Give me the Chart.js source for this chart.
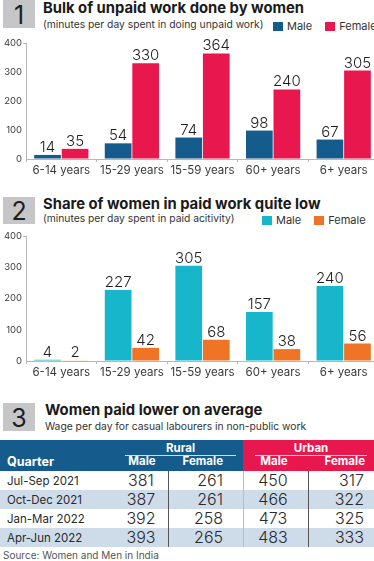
<!DOCTYPE html>
<html>
<head>
<meta charset="utf-8">
<script src="https://cdn.jsdelivr.net/npm/chart.js@4.4.1/dist/chart.umd.min.js"></script>
<style>
  html, body { margin: 0; padding: 0; background: #fff; }
  body { width: 374px; height: 561px; position: relative; overflow: hidden; font-family: 'Inter', sans-serif; color: #222; }
  .abs { position: absolute; white-space: nowrap; }
  .num { background: #c6c6c8; width: 32px; font-size: 25px; color: #1e1e1e; text-align: center; }
  .title { font-weight: 700; font-size: 14.8px; color: #1a1a1a; }
  .sub { font-size: 10.3px; color: #333; }
  .leg { font-size: 11px; color: #333; display: flex; align-items: center; }
  .leg i { display: inline-block; width: 10px; height: 9px; margin-right: 4px; }
  .leg span { margin-right: 13px; display: flex; align-items: center; }
  canvas { position: absolute; left: 0; }
  .th { color: #fff; font-weight: 700; font-size: 11.5px; }
  .q { font-size: 11.5px; color: #2a2a2a; }
  .v { font-size: 16px; color: #2a2a2a; font-weight: 300; }
</style>
</head>
<body>
<!-- Section 1 -->
<div class="abs num" style="left:3px;top:0;height:28px;line-height:30px;">1</div>
<div class="abs title" style="left:43px;top:-1px;">Bulk of unpaid work done by women</div>
<div class="abs sub" style="left:43px;top:18px;">(minutes per day spent in doing unpaid work)</div>
<div class="abs leg" id="leg1" style="left:273px;top:19px;"></div>
<canvas id="unpaidChart" width="379" height="153" style="top:30px;"></canvas>

<!-- Section 2 -->
<div class="abs num" style="left:3px;top:197px;height:27px;line-height:29px;">2</div>
<div class="abs title" style="left:43px;top:195px;">Share of women in paid work quite low</div>
<div class="abs sub" style="left:43px;top:212px;">(minutes per day spent in paid acitivity)</div>
<div class="abs leg" id="leg2" style="left:262px;top:213px;"></div>
<canvas id="paidChart" width="379" height="162" style="top:223px;"></canvas>

<!-- Section 3 -->
<div class="abs num" style="left:3px;top:403px;height:28px;line-height:30px;">3</div>
<div class="abs title" style="left:45px;top:401px;">Women paid lower on average</div>
<div class="abs sub" style="left:45px;top:420px;">Wage per day for casual labourers in non-public work</div>
<div id="wageTable"></div>
<div class="abs" style="left:3px;top:549px;font-size:10px;color:#555;">Source: Women and Men in India</div>

<script>
// ── Data ─────────────────────────────────────────────
const ageGroups = ['6-14 years', '15-29 years', '15-59 years', '60+ years', '6+ years'];
const unpaidMale = [14, 54, 74, 98, 67];
const unpaidFemale = [35, 330, 364, 240, 305];
const paidMale = [4, 227, 305, 157, 240];
const paidFemale = [2, 42, 68, 38, 56];
const yTicks = [0, 100, 200, 300, 400];

const quarters = ['Jul-Sep 2021', 'Oct-Dec 2021', 'Jan-Mar 2022', 'Apr-Jun 2022'];
const ruralMale = [381, 387, 392, 393];
const ruralFemale = [261, 261, 258, 265];
const urbanMale = [450, 466, 473, 483];
const urbanFemale = [317, 322, 325, 333];

const COLORS = {
  blue: '#155b8b',
  pink: '#e8184f',
  cyan: '#17b6ca',
  orange: '#ef7426',
  axis: '#b8b8b8',
  tick: '#3a3a3a',
  rowAlt: '#cedcea',
};

// ── Bar value labels ─────────────────────────────────
const valueLabels = {
  id: 'valueLabels',
  afterDatasetsDraw(chart) {
    const { ctx } = chart;
    ctx.save();
    ctx.font = '300 15px Inter';
    ctx.fillStyle = '#1e1e1e';
    ctx.textAlign = 'center';
    ctx.textBaseline = 'alphabetic';
    chart.data.datasets.forEach((ds, i) => {
      chart.getDatasetMeta(i).data.forEach((bar, j) => {
        ctx.fillText(ds.data[j], bar.x, bar.y - 3);
      });
    });
    ctx.restore();
  }
};

function buildBarChart(id, male, female, maleColor, femaleColor) {
  return new Chart(document.getElementById(id), {
    type: 'bar',
    data: {
      labels: ageGroups,
      datasets: [
        { label: 'Male', data: male, backgroundColor: maleColor },
        { label: 'Female', data: female, backgroundColor: femaleColor },
      ]
    },
    options: {
      responsive: false,
      animation: false,
      layout: { padding: { top: 13, left: 0, right: 0, bottom: 0 } },
      datasets: { bar: { categoryPercentage: 0.78, barPercentage: 0.97 } },
      plugins: { legend: { display: false }, tooltip: { enabled: false } },
      scales: {
        x: {
          afterFit: (s) => { s.height = 24; },
          grid: { drawOnChartArea: false, drawTicks: true, tickLength: 3, color: COLORS.axis },
          border: { color: COLORS.axis },
          ticks: { color: COLORS.tick, padding: 2, font: { family: 'Inter', size: 11.5 } }
        },
        y: {
          min: 0, max: 400,
          afterFit: (s) => { s.width = 26; },
          afterBuildTicks: (s) => { s.ticks = yTicks.map(v => ({ value: v })); },
          grid: {
            drawOnChartArea: false, drawTicks: true, tickLength: 3,
            color: (c) => c.tick && c.tick.value === 400 ? COLORS.axis : 'transparent'
          },
          border: { color: COLORS.axis },
          ticks: { color: COLORS.tick, padding: 1, font: { family: 'Inter', size: 9.5 } }
        }
      }
    },
    plugins: [valueLabels]
  });
}

buildBarChart('unpaidChart', unpaidMale, unpaidFemale, COLORS.blue, COLORS.pink);
buildBarChart('paidChart', paidMale, paidFemale, COLORS.cyan, COLORS.orange);

// ── Legends ──────────────────────────────────────────
function legend(id, c1, c2) {
  document.getElementById(id).innerHTML =
    `<span><i style="background:${c1}"></i>Male</span><span><i style="background:${c2}"></i>Female</span>`;
}
legend('leg1', COLORS.blue, COLORS.pink);
legend('leg2', COLORS.cyan, COLORS.orange);

// ── Wage table ───────────────────────────────────────
(function buildTable() {
  const el = document.getElementById('wageTable');
  const top = 440, headH = 31, rowH = 19;
  let html = '';
  html += `<div class="abs" style="left:0;top:${top}px;width:243px;height:${headH}px;background:${COLORS.blue}"></div>`;
  html += `<div class="abs" style="left:243px;top:${top}px;width:131px;height:${headH}px;background:${COLORS.pink}"></div>`;
  html += `<div class="abs th" style="left:125px;width:111px;text-align:center;top:${top + 1}px;">Rural</div>`;
  html += `<div class="abs th" style="left:255px;width:112px;text-align:center;top:${top + 1}px;">Urban</div>`;
  html += `<div class="abs" style="left:125px;top:${top + 15}px;width:111px;height:1px;background:#fff;opacity:.8"></div>`;
  html += `<div class="abs" style="left:255px;top:${top + 15}px;width:112px;height:1px;background:#fff;opacity:.8"></div>`;
  const hy = top + 14;
  html += `<div class="abs th" style="left:7px;top:${hy}px;font-size:12.5px;">Quarter</div>`;
  html += `<div class="abs th" style="left:112px;width:60px;text-align:center;top:${hy}px;">Male</div>`;
  html += `<div class="abs th" style="left:163px;width:60px;text-align:right;top:${hy}px;">Female</div>`;
  html += `<div class="abs th" style="left:244px;width:60px;text-align:center;top:${hy}px;">Male</div>`;
  html += `<div class="abs th" style="left:305px;width:60px;text-align:right;top:${hy}px;">Female</div>`;
  quarters.forEach((q, i) => {
    const y = top + headH + i * rowH;
    const bg = i % 2 ? COLORS.rowAlt : '#fff';
    html += `<div class="abs" style="left:0;top:${y}px;width:374px;height:${rowH}px;background:${bg}"></div>`;
    html += `<div class="abs q" style="left:7px;top:${y + 2}px;line-height:16px;">${q}</div>`;
    html += `<div class="abs v" style="left:111px;width:60px;text-align:center;top:${y}px;line-height:19px;">${ruralMale[i]}</div>`;
    html += `<div class="abs v" style="left:163px;width:60px;text-align:right;top:${y}px;line-height:19px;">${ruralFemale[i]}</div>`;
    html += `<div class="abs v" style="left:243px;width:60px;text-align:center;top:${y}px;line-height:19px;">${urbanMale[i]}</div>`;
    html += `<div class="abs v" style="left:304px;width:60px;text-align:right;top:${y}px;line-height:19px;">${urbanFemale[i]}</div>`;
  });
  const bodyTop = top + headH, bodyH = rowH * quarters.length;
  html += `<div class="abs" style="left:168px;top:${bodyTop}px;width:1px;height:${bodyH}px;background:#555"></div>`;
  html += `<div class="abs" style="left:243px;top:${bodyTop}px;width:1px;height:${bodyH}px;background:#bbb"></div>`;
  html += `<div class="abs" style="left:308px;top:${bodyTop}px;width:1px;height:${bodyH}px;background:#555"></div>`;
  el.innerHTML = html;
})();
</script>
</body>
</html>
